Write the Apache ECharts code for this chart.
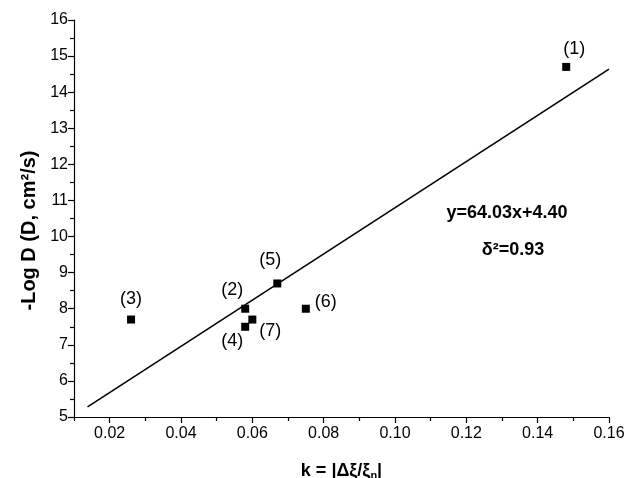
<!DOCTYPE html>
<html>
<head>
<meta charset="utf-8">
<script src="https://cdn.jsdelivr.net/npm/echarts@6/dist/echarts.min.js"></script>
<style>
  html, body { margin: 0; padding: 0; background: #fff; }
  #chart { width: 626px; height: 478px; }
</style>
</head>
<body>
<div id="chart"></div>
<script>
// measured points
const pointNames = ['(1)', '(2)', '(3)', '(4)', '(5)', '(6)', '(7)']
const kValues = [0.148, 0.058, 0.026, 0.058, 0.067, 0.075, 0.060]
const logDValues = [14.7, 8.0, 7.7, 7.5, 8.7, 8.0, 7.7]

// fitted line y=64.03x+4.40, end points
const fitK = [0.0138, 0.16]
const fitLogD = [5.28, 14.64]

// tick labels
const xMajorTicks = [0.02, 0.04, 0.06, 0.08, 0.10, 0.12, 0.14, 0.16]
const xMinorTicks = [0.01, 0.03, 0.05, 0.07, 0.09, 0.11, 0.13, 0.15]

// label offsets around each marker
const labelOffsets = [[8, -18], [-13, -19], [0, -21], [-13, 14], [-7, -23], [20, -7], [18, 11]]

const font = 'Liberation Sans, Arial, sans-serif'

const chart = echarts.init(document.getElementById('chart'))

const option = {
  animation: false,
  backgroundColor: '#fff',
  textStyle: { fontFamily: font },
  grid: { left: 74, right: 17, top: 20, bottom: 61, containLabel: false, outerBoundsMode: 'none' },
  xAxis: [
    {
      type: 'value',
      min: 0.01,
      max: 0.16,
      splitLine: { show: false },
      axisLine: { onZero: false, lineStyle: { color: '#000', width: 1.2 } },
      axisTick: { customValues: xMajorTicks, length: 6, lineStyle: { color: '#000', width: 1.2 } },
      axisLabel: {
        customValues: xMajorTicks,
        color: '#000',
        fontSize: 16,
        margin: 9,
        formatter: v => v.toFixed(2)
      },
      name: '{b|k = |Δξ/ξ}{s|n}{b||}',
      nameLocation: 'middle',
      nameGap: 44,
      nameTextStyle: {
        rich: {
          b: { fontFamily: font, fontWeight: 'bold', fontSize: 18, color: '#000' },
          s: { fontFamily: font, fontWeight: 'bold', fontSize: 11, color: '#000', verticalAlign: 'bottom', padding: [9, 0, 0, 0] }
        }
      }
    },
    {
      type: 'value',
      min: 0.01,
      max: 0.16,
      position: 'bottom',
      splitLine: { show: false },
      axisLine: { show: false },
      axisTick: { customValues: xMinorTicks, length: 4, lineStyle: { color: '#000', width: 1.2 } },
      axisLabel: { show: false }
    }
  ],
  yAxis: {
    type: 'value',
    min: 5,
    max: 16,
    interval: 1,
    splitLine: { show: false },
    axisLine: { show: true, onZero: false, lineStyle: { color: '#000', width: 1.2 } },
    axisTick: { length: 6, lineStyle: { color: '#000', width: 1.2 } },
    minorTick: { show: true, splitNumber: 2, length: 4, lineStyle: { color: '#000', width: 1.2 } },
    axisLabel: { color: '#000', fontSize: 16, margin: 6 },
    name: '-Log D (D, cm²/s)',
    nameLocation: 'middle',
    nameGap: 33,
    nameTextStyle: { fontFamily: font, fontWeight: 'bold', fontSize: 20, color: '#000', padding: [0, 24, 0, 0] }
  },
  graphic: [
    {
      type: 'text',
      x: 507,
      y: 213,
      style: { text: 'y=64.03x+4.40', font: 'bold 18px ' + font, fill: '#000', align: 'center', verticalAlign: 'middle' }
    },
    {
      type: 'text',
      x: 513,
      y: 250,
      style: { text: 'δ²=0.93', font: 'bold 18px ' + font, fill: '#000', align: 'center', verticalAlign: 'middle' }
    }
  ],
  series: [
    {
      type: 'line',
      data: fitK.map((k, i) => [k, fitLogD[i]]),
      symbol: 'none',
      lineStyle: { color: '#000', width: 1.6 },
      z: 2
    },
    {
      type: 'scatter',
      symbol: 'rect',
      symbolSize: 8,
      itemStyle: { color: '#000', opacity: 1 },
      data: kValues.map((k, i) => ({
        name: pointNames[i],
        value: [k, logDValues[i]],
        label: {
          show: true,
          position: 'inside',
          offset: labelOffsets[i],
          formatter: '{b}',
          color: '#000',
          opacity: 1,
          fontSize: 18,
          fontFamily: font
        }
      })),
      z: 3
    }
  ]
}

chart.setOption(option)
</script>
</body>
</html>
